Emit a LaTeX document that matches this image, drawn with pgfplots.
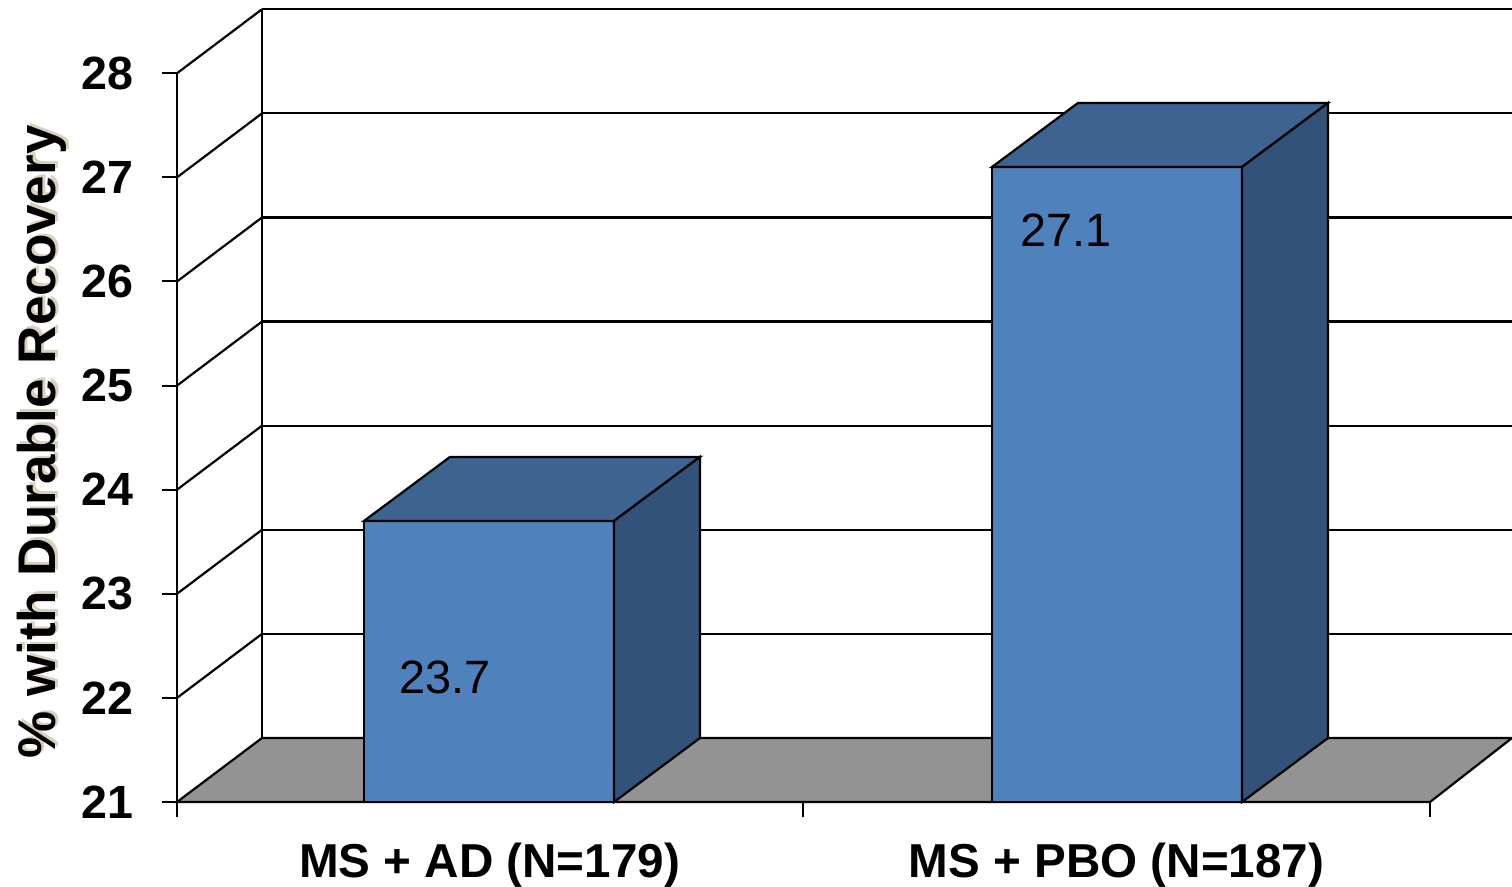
\documentclass[border=0pt]{standalone}
\usepackage{pgfplots}
\pgfplotsset{compat=1.18}
\usepackage{fontspec}
\setmainfont{Liberation Sans}

\definecolor{barfront}{HTML}{4F81BD}
\definecolor{bartop}{HTML}{3D6391}
\definecolor{barside}{HTML}{32527A}
\definecolor{floorgray}{HTML}{939393}
\definecolor{shadowtan}{HTML}{D8D1BD}

\begin{document}
\begin{tikzpicture}
% x runs in drawing units (0.5pt each); y in percent.
% The back wall sits 85 units right and 0.615 percent up from the front plane.
\begin{axis}[
  scale only axis, width=667.5pt, height=397pt,
  xmin=177, xmax=1512, ymin=21, ymax=28.627,
  clip=false,
  axis lines=left, axis line style={draw=none},
  tick align=outside, major tick length=7.5pt,
  tick style={black, line width=1pt},
  ytick={21,...,28},
  xtick={177,803,1430}, xticklabels={},
  extra x ticks={489.5,1116.5},
  extra x tick labels={MS + AD (N=179), MS + PBO (N=187)},
  extra x tick style={major tick length=0pt,
    xticklabel style={yshift=-17pt, font=\bfseries\fontsize{23.8}{23.8}\selectfont}},
  /pgf/number format/assume math mode=true,
  yticklabel style={font=\bfseries\fontsize{23.3}{23.3}\selectfont, xshift=-11pt},
  every axis plot/.append style={line width=1.1pt, line join=miter},
]
% floor
\addplot[draw=black, fill=floorgray] coordinates {(177,21) (1430,21) (1512,21.615) (262,21.615)} -- cycle;
% back wall gridlines and side wall diagonals
\foreach \k in {22,...,28} {
  \edef\tmp{\noexpand\draw[black, line width=1.1pt] (axis cs:262,\k.615) -- (axis cs:1512,\k.615);}\tmp
  \edef\tmp{\noexpand\draw[black, line width=1.1pt] (axis cs:177,\k) -- (axis cs:262,\k.615);}\tmp
}
\draw[black, line width=1.1pt] (axis cs:262,21.615) -- (axis cs:262,28.615);
\draw[black, line width=1.1pt] (axis cs:177,21) -- (axis cs:177,28);

% bar 1: MS + AD, 23.7
\addplot[draw=black, fill=barfront] coordinates {(364,21) (614,21) (614,23.7) (364,23.7)} -- cycle;
\addplot[draw=black, fill=bartop] coordinates {(364,23.7) (614,23.7) (700,24.315) (450,24.315)} -- cycle;
\addplot[draw=black, fill=barside] coordinates {(614,21) (700,21.615) (700,24.315) (614,23.7)} -- cycle;
% bar 2: MS + PBO, 27.1
\addplot[draw=black, fill=barfront] coordinates {(992,21) (1242,21) (1242,27.1) (992,27.1)} -- cycle;
\addplot[draw=black, fill=bartop] coordinates {(992,27.1) (1242,27.1) (1328,27.715) (1078,27.715)} -- cycle;
\addplot[draw=black, fill=barside] coordinates {(1242,21) (1328,21.615) (1328,27.715) (1242,27.1)} -- cycle;

% value labels
\node[font=\fontsize{23.4}{23.4}\selectfont] at (axis cs:445,22.2) {23.7};
\node[font=\fontsize{23.4}{23.4}\selectfont] at (axis cs:1066,26.495) {27.1};

% y axis title with its soft shadow
\node[rotate=90, text=shadowtan, font=\bfseries\fontsize{26.5}{26.5}\selectfont, xshift=1.3pt, yshift=-1.3pt] at (axis cs:42,24.458) {\% with Durable Recovery};
\node[rotate=90, font=\bfseries\fontsize{26.5}{26.5}\selectfont] at (axis cs:42,24.458) {\% with Durable Recovery};

\coordinate (BL) at (axis cs:0,20.193);
\coordinate (TR) at (axis cs:1512,28.704);
\end{axis}
\pgfresetboundingbox
\path[use as bounding box] (BL) rectangle (TR);
\end{tikzpicture}
\end{document}
